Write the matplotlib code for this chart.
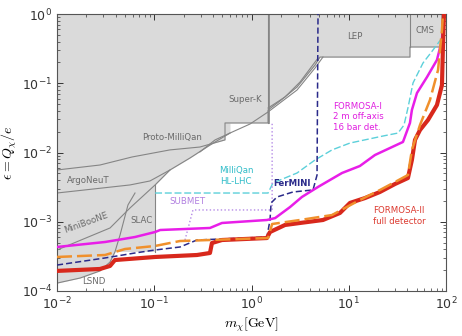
import matplotlib
matplotlib.use('Agg')
import matplotlib.pyplot as plt
import numpy as np

plt.rcParams['mathtext.fontset'] = 'cm'
plt.rcParams['font.family'] = ['DejaVu Sans']

# ---- excluded regions (lower edges, filled up to eps = 1) ----
lsnd_m = [0.01, 0.0173, 0.0277, 0.0351, 0.0394, 0.0445, 0.0537, 0.0634]
lsnd_eps = [1.30e-4, 1.54e-4, 1.95e-4, 2.62e-4, 3.66e-4, 6.44e-4, 1.75e-3, 2.60e-3]

slac_m = [0.0394, 0.102]
slac_eps = [3.7e-4, 3.7e-4]

minib_m = [0.01, 0.0351, 0.0563, 0.102, 0.145]
minib_eps = [3.91e-4, 8.13e-4, 1.58e-3, 3.40e-3, 5.59e-3]

argo_m = [0.01, 0.0563, 0.0903, 0.145, 0.233, 0.374, 0.601]
argo_eps = [2.60e-3, 3.40e-3, 3.88e-3, 5.59e-3, 8.33e-3, 0.0128, 0.0191]

# proto-milliQan + demonstrator box + super-K + LEP + CMS envelope
env_m = [0.01, 0.0277, 0.059, 0.145, 0.295, 0.534, 0.534, 1.48, 1.48,
         1.96, 2.94, 4.50, 5.06, 42.6, 42.6, 90.9, 90.9]
env_eps = [5.59e-3, 6.6e-3, 8.61e-3, 0.0109, 0.0120, 0.0152, 0.0267, 0.0267,
           0.0411, 0.0554, 0.0882, 0.183, 0.239, 0.239, 0.334, 0.334, 1.0]

superk_m = [0.295, 0.422, 0.601, 0.966, 1.48, 1.96, 2.94, 4.50, 5.43]
superk_eps = [0.0102, 0.0152, 0.0191, 0.0258, 0.0385, 0.0519, 0.0799, 0.166, 0.239]

other_m = [1.48, 2.21, 3.15, 4.83]
other_eps = [0.0439, 0.0633, 0.104, 0.231]

# ---- projected sensitivities ----
mq_m = [0.102, 1.48, 1.66, 2.94, 4.50, 6.73, 10.3, 22.5, 32.1, 37.0, 40.6,
        45.8, 58.0, 73.5, 90.9]
mq_eps = [2.60e-3, 2.60e-3, 3.63e-3, 5.06e-3, 7.8e-3, 0.0109, 0.0137, 0.0173,
          0.0191, 0.0249, 0.0439, 0.101, 0.196, 0.302, 0.450]

fermini_m = [0.01, 0.0312, 0.0634, 0.102, 0.184, 0.275, 1.44, 1.55, 1.59,
             1.83, 2.67, 4.29, 4.72, 4.83]
fermini_eps = [2.37e-4, 3.0e-4, 3.54e-4, 3.91e-4, 4.32e-4, 5.45e-4, 6.02e-4,
               1.06e-3, 1.87e-3, 2.28e-3, 2.69e-3, 2.88e-3, 4.73e-3, 1.0]

submet_m = [0.207, 0.250, 1.63, 1.63]
submet_eps = [5.45e-4, 1.48e-3, 1.48e-3, 0.0267]

f1_m = [0.01, 0.0312, 0.0634, 0.102, 0.115, 0.374, 0.497, 1.44, 1.75, 2.49,
        3.30, 4.83, 8.53, 13.0, 18.6, 26.5, 36.1, 42.6, 44.6, 50.3, 63.8,
        80.7, 90.9, 93.1, 95.3]
f1_eps = [4.32e-4, 5.10e-4, 6.02e-4, 7.11e-4, 7.60e-4, 8.13e-4, 9.60e-4,
          1.06e-3, 1.13e-3, 1.63e-3, 2.28e-3, 3.18e-3, 5.06e-3, 6.38e-3,
          9.2e-3, 0.0116, 0.0142, 0.0267, 0.0411, 0.0723, 0.123, 0.217,
          0.421, 0.741, 1.0]

f2_m = [0.01, 0.0277, 0.0351, 0.0394, 0.102, 0.275, 0.374, 0.392, 0.497,
        1.44, 1.55, 2.21, 3.15, 5.43, 8.12, 10.3, 14.7, 20.9, 29.9, 40.6,
        44.6, 48.0, 54.0, 65.3, 80.7, 90.9, 93.1, 95.3]
f2_eps = [1.95e-4, 2.08e-4, 2.30e-4, 2.80e-4, 3.10e-4, 3.31e-4, 3.54e-4,
          4.93e-4, 5.45e-4, 5.82e-4, 7.11e-4, 8.98e-4, 9.60e-4, 1.06e-3,
          1.34e-3, 1.87e-3, 2.20e-3, 2.69e-3, 3.51e-3, 4.28e-3, 7.8e-3,
          0.0152, 0.0211, 0.0295, 0.0485, 0.0944, 0.357, 1.0]

f2b_m = [0.01, 0.0312, 0.050, 0.102, 0.184, 1.48, 1.63, 3.15, 6.73, 9.14,
         13.0, 20.9, 29.9, 40.6, 44.6, 54.0, 68.4, 82.8, 90.9, 93.1]
f2b_eps = [3.10e-4, 3.31e-4, 4.04e-4, 4.47e-4, 5.27e-4, 5.82e-4, 9.28e-4,
           1.06e-3, 1.25e-3, 1.58e-3, 2.06e-3, 2.87e-3, 3.75e-3, 4.73e-3,
           0.0109, 0.0249, 0.0573, 0.155, 0.587, 1.0]

gray_fill = '#dadada'
gray_line = '#858585'
gray_text = '#6a6a6a'


def main():
    fig = plt.figure(figsize=(4.62, 3.36), dpi=100)
    ax = fig.add_axes([57 / 462, 1 - 291 / 336, 389 / 462, 277 / 336])
    ax.set_xscale('log')
    ax.set_yscale('log')

    # excluded regions
    for m, e in [(lsnd_m, lsnd_eps), (slac_m, slac_eps), (minib_m, minib_eps),
                 (argo_m, argo_eps), (env_m, env_eps)]:
        ax.fill_between(m, e, 1, color=gray_fill, lw=0, zorder=1)

    for m, e in [(lsnd_m, lsnd_eps), (minib_m, minib_eps), (argo_m, argo_eps),
                 (env_m, env_eps), (superk_m, superk_eps), (other_m, other_eps)]:
        ax.plot(m, e, color=gray_line, lw=0.8, zorder=2)
    # slac right edge, demonstrator vertical, LEP edge
    ax.plot([0.102, 0.102], [3.7e-4, 3.4e-3], color=gray_line, lw=0.8, zorder=2)
    ax.plot([1.48, 1.48], [0.0267, 1], color=gray_line, lw=0.8, zorder=2)
    ax.plot([1.52, 1.52], [0.0267, 1], color=gray_line, lw=0.6, zorder=2)
    ax.plot([42.6, 42.6], [0.334, 1], color=gray_line, lw=0.8, zorder=2)

    # sensitivities
    ax.plot(mq_m, mq_eps, color='#5cd0da', lw=1.0, ls=(0, (5, 2)), zorder=3)
    ax.plot(submet_m, submet_eps, color='#b48ae6', lw=1.0, ls=':', zorder=3)
    ax.plot(fermini_m, fermini_eps, color='#2a2a8a', lw=1.1, ls=(0, (4, 2)), zorder=4)
    ax.plot(f1_m, f1_eps, color='#e81ee8', lw=1.8, zorder=5)
    ax.plot(f2_m, f2_eps, color='#d8281c', lw=3.0, zorder=5)
    ax.plot(f2b_m, f2b_eps, color='#f0902c', lw=1.8, ls=(0, (6, 2)), zorder=6)

    # labels
    fs = 6.2
    for txt, x, y, rot in [('LEP', 11.6, 0.466, 0), ('CMS', 60.8, 0.587, 0),
                           ('Super-K', 0.857, 0.0573, 0),
                           ('Proto-MilliQan', 0.152, 0.0167, 0),
                           ('ArgoNeuT', 0.0208, 3.88e-3, 0),
                           ('MiniBooNE', 0.0199, 9.6e-4, 20),
                           ('SLAC', 0.0748, 1.03e-3, 0),
                           ('LSND', 0.024, 1.35e-4, 0)]:
        ax.text(x, y, txt, color=gray_text, fontsize=fs, rotation=rot,
                ha='center', va='center', zorder=7)
    ax.text(0.693, 4.58e-3, 'MilliQan\nHL-LHC', color='#2fbcc8', fontsize=fs,
            ha='center', va='center', zorder=7)
    ax.text(0.217, 1.93e-3, 'SUBMET', color='#b07ee0', fontsize=fs,
            ha='center', va='center', zorder=7)
    ax.text(2.61, 3.51e-3, 'FerMINI', color='#2a2a8a', fontsize=fs,
            fontweight='bold', ha='center', va='center', zorder=7)
    ax.text(6.89, 0.0326, 'FORMOSA-I\n2 m off-axis\n16 bar det.',
            color='#e01ee0', fontsize=fs, ha='left', va='center', zorder=7)
    ax.text(17.7, 1.21e-3, 'FORMOSA-II\nfull detector', color='#dc3a30',
            fontsize=fs, ha='left', va='center', zorder=7)

    ax.set_xlim(1e-2, 1e2)
    ax.set_ylim(1e-4, 1)
    ax.set_xlabel(r'$m_\chi[\mathrm{GeV}]$', fontsize=10, labelpad=2)
    ax.set_ylabel(r'$\epsilon = Q_\chi/e$', fontsize=10, labelpad=2)
    ax.tick_params(which='both', direction='in', top=True, right=True,
                   labelsize=9, colors='#333333')
    ax.tick_params(which='major', length=4, width=0.7)
    ax.tick_params(which='minor', length=2, width=0.5)
    for s in ax.spines.values():
        s.set_color('#555555')
        s.set_linewidth(0.8)

    fig.savefig('out.png', dpi=100)


if __name__ == '__main__':
    main()
